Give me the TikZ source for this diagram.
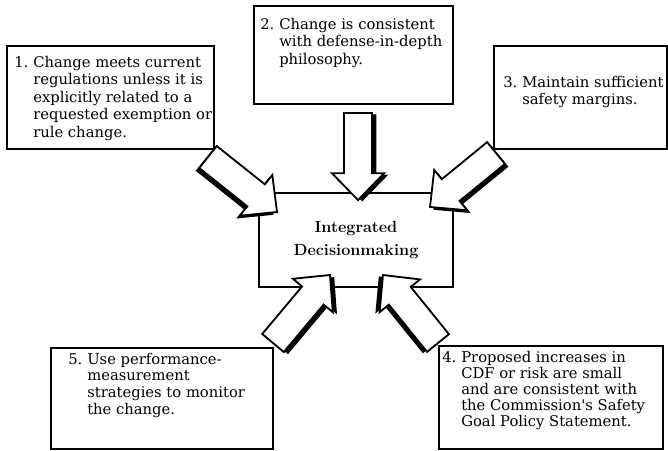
\documentclass[tikz,border=0pt]{standalone}
\usepackage{amsmath}
\usepackage{fontspec}
\usepackage{tikz}
\usetikzlibrary{calc,shadows}

\newfontfamily\boxfont{DejaVu Serif}

\tikzset{
  box/.style={draw, line width=1.6pt, rectangle, inner sep=0pt, anchor=north west},
  txt/.style={anchor=base west, inner sep=0pt, align=left, font=\boxfont\fontsize{10.5}{12.5}\selectfont},
  fatarrow/.style={draw, line width=1.3pt, fill=white, line join=miter}
}

% block arrow from tail #2 to tip #3, shadow offset #1
\newcommand{\fatarrow}[3]{%
  \coordinate (#2-h) at ($(#3)!19pt!(#2)$);
  \draw[fatarrow, drop shadow={#1, fill=black, opacity=1}]
    ($(#2)!10pt!90:(#3)$) -- ($(#2-h)!10pt!90:(#3)$) -- ($(#2-h)!18.5pt!90:(#3)$)
    -- (#3) -- ($(#2-h)!18.5pt!-90:(#3)$) -- ($(#2-h)!10pt!-90:(#3)$)
    -- ($(#2)!10pt!-90:(#3)$) -- cycle;
}

\begin{document}
\begin{tikzpicture}[x=0.025cm, y=-0.025cm]
	\useasboundingbox (0,0) rectangle (668,450);
	% the five boxes
	\node[box, minimum width=5.175cm, minimum height=2.575cm] (box1) at (6,45) {};
	\node[box, minimum width=4.975cm, minimum height=2.45cm] (box2) at (253,5) {};
	\node[box, minimum width=4.325cm, minimum height=2.575cm] (box3) at (493,45) {};
	\node[box, minimum width=5.6cm, minimum height=2.575cm] (box4) at (438,345) {};
	\node[box, minimum width=5.55cm, minimum height=2.525cm] (box5) at (50,347) {};
	\node[txt] (t1) at ([shift={(8,22)}]box1.north west) {\begin{tabular}[t]{@{}p{13.5pt}@{}l@{}}
		1. & Change meets current\\ & regulations unless it is\\ & explicitly related to a\\
		& requested exemption or\\ & rule change.\end{tabular}};
	\node[txt] (t2) at ([shift={(7,24)}]box2.north west) {\begin{tabular}[t]{@{}p{13.5pt}@{}l@{}}
		2. & Change is consistent\\ & with defense-in-depth\\ & philosophy.\end{tabular}};
	\node[txt] (t3) at ([shift={(10,42)}]box3.north west) {\begin{tabular}[t]{@{}p{13.5pt}@{}l@{}}
		3. & Maintain sufficient\\ & safety margins.\end{tabular}};
	\node[txt, font=\boxfont\fontsize{10.5}{11.4}\selectfont] (t4) at ([shift={(4,17)}]box4.north west) {\begin{tabular}[t]{@{}p{13.5pt}@{}l@{}}
		4. & Proposed increases in\\ & CDF or risk are small\\ & and are consistent with\\
		& the Commission's Safety\\ & Goal Policy Statement.\end{tabular}};
	\node[txt, font=\boxfont\fontsize{10.5}{12}\selectfont] (t5) at ([shift={(18,17)}]box5.north west) {\begin{tabular}[t]{@{}p{13.5pt}@{}l@{}}
		5. & Use performance-\\ & measurement\\ & strategies to monitor\\ & the change.\end{tabular}};
	% centre
	\node[box, anchor=center, minimum width=4.85cm, minimum height=2.35cm, align=center,
		font=\fontsize{11.5}{16}\selectfont\bfseries] (idm) at (356,240) {Integrated\\Decisionmaking};
	% arrows
	\coordinate (a1) at (208,157); \coordinate (e1) at (277,212);
	\coordinate (a2) at (358,113); \coordinate (e2) at (358,200);
	\coordinate (a3) at (496,153); \coordinate (e3) at (430,207);
	\coordinate (a4) at (438,343); \coordinate (e4) at (383,275);
	\coordinate (a5) at (273,343); \coordinate (e5) at (330,275);
	\fatarrow{shadow xshift=-2.5pt, shadow yshift=-2pt}{a1}{e1}
	\fatarrow{shadow xshift=3pt, shadow yshift=-1pt}{a2}{e2}
	\fatarrow{shadow xshift=2.5pt, shadow yshift=-2pt}{a3}{e3}
	\fatarrow{shadow xshift=-3pt, shadow yshift=-1pt}{a4}{e4}
	\fatarrow{shadow xshift=3pt, shadow yshift=-1.5pt}{a5}{e5}
\end{tikzpicture}
\end{document}
